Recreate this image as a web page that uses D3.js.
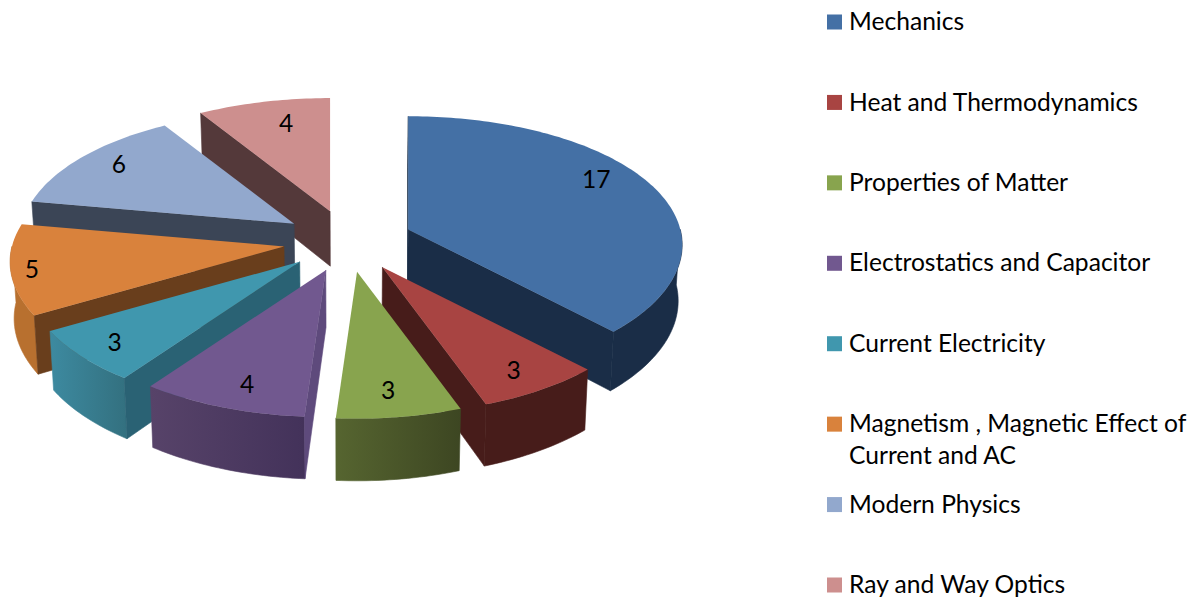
<!DOCTYPE html>
<html>
<head>
<meta charset="utf-8">
<script src="https://cdnjs.cloudflare.com/ajax/libs/d3/7.8.5/d3.min.js"></script>
<style>
  html, body { margin: 0; background: #fff; }
  text { font-family: Lato, "Open Sans", sans-serif; fill: #000; }
</style>
</head>
<body>
<div id="chart"></div>
<script>
  // Data
  const topics = ['Mechanics', 'Heat and Thermodynamics', 'Properties of Matter',
    'Electrostatics and Capacitor', 'Current Electricity',
    'Magnetism , Magnetic Effect of Current and AC', 'Modern Physics', 'Ray and Way Optics']
  const counts = [17, 3, 3, 4, 3, 5, 6, 4]

  // Colours
  const topColors = ['#4470a5', '#a84442', '#88a44e', '#71588f', '#4097ae', '#d9823c', '#92a8cd', '#cd8f8e']
  const wallColors = ['#1a2d47', '#471c1a', '#3d4622', '#5e4a7c', '#2a6274', '#693e1c', '#3b4556', '#54393a']
  const rimLeft = ['#1a2d47', '#471c1a', '#566530', '#574369', '#3d8aa0', '#b8702f', '#3b4556', '#54393a']
  const rimRight = ['#1a2d47', '#471c1a', '#3d4622', '#43325a', '#33707f', '#b8702f', '#3b4556', '#54393a']

  // Label placement: radius along the slice and angle nudge in degrees
  const labelRadius = [0.83, 0.85, 0.83, 0.84, 0.86, 0.925, 0.84, 0.765]
  const labelNudge = [-7, 0.5, 0.8, -1.7, -0.3, -1, 1.5, 2.6]

  // Vars for dimensions
  const width = 1194
  const height = 599
  const center = { x: 348, y: 241 }
  const explode = { x: 65, y: 31 }
  const radius = { x: 272, y: 130 }
  const perspective = { x: 0.12, y: 0.13 }

  const svg = d3.select('#chart')
    .append('svg')
    .attr('width', width)
    .attr('height', height)
    .style('display', 'block')

  const defs = svg.append('defs')
  const g = svg.append('g')

  const slices = d3.pie().sort(null).value(d => d)(counts)

  // Height of a wall grows a bit towards the viewer
  const wallDepth = y => 56 + (y - center.y) * 0.035

  const apexOf = d => {
    const mid = (d.startAngle + d.endAngle) / 2
    return [center.x + explode.x * Math.sin(mid), center.y - explode.y * Math.cos(mid)]
  }

  const rimPoint = (apex, angle, r = 1) => {
    const u = Math.sin(angle) * r
    const v = -Math.cos(angle) * r
    return [
      apex[0] + u * radius.x * (1 + perspective.x * v),
      apex[1] + v * radius.y * (1 + perspective.y * v)
    ]
  }

  const lower = pt => [center.x + (pt[0] - center.x) * 0.988, pt[1] + wallDepth(pt[1])]

  const arcPoints = (apex, a0, a1) => {
    const n = Math.max(2, Math.ceil((a1 - a0) / 0.02))
    return d3.range(n + 1).map(i => rimPoint(apex, a0 + (a1 - a0) * i / n))
  }

  const line = d3.line().curve(d3.curveLinearClosed)

  // Back to front, so nearer slices cover the walls of farther ones
  const drawOrder = [7, 6, 0, 5, 4, 3, 1, 2]

  drawOrder.forEach(i => {
    const d = slices[i]
    const a0 = d.startAngle
    const a1 = d.endAngle
    const apex = apexOf(d)
    const group = g.append('g').attr('class', 'slice')

    // Outer wall, only the part facing the viewer
    const from = Math.max(a0, Math.PI / 2)
    const to = Math.min(a1, Math.PI * 1.5)
    if (to > from) {
      const grad = defs.append('linearGradient').attr('id', `rim-${i}`)
      grad.append('stop').attr('offset', '0%').attr('stop-color', rimLeft[i])
      grad.append('stop').attr('offset', '100%').attr('stop-color', rimRight[i])
      const arc = arcPoints(apex, from, to)
      group.append('path')
        .attr('d', line(arc.concat(arc.map(lower).reverse())))
        .attr('fill', `url(#rim-${i})`)
        .attr('stroke', `url(#rim-${i})`)
        .attr('stroke-width', 0.6)
    }

    // Cut walls, only when they face the viewer
    const wall = angle => {
      const tip = rimPoint(apex, angle)
      group.append('path')
        .attr('d', line([apex, tip, lower(tip), lower(apex)]))
        .attr('fill', wallColors[i])
        .attr('stroke', wallColors[i])
        .attr('stroke-width', 0.6)
    }
    if (Math.sin(a0) <= 1e-9) wall(a0)
    if (Math.sin(a1) > 1e-9) wall(a1)

    // Top face
    group.append('path')
      .attr('d', line([apex].concat(arcPoints(apex, a0, a1))))
      .attr('fill', topColors[i])
  })

  // Value labels
  slices.forEach((d, i) => {
    const mid = (d.startAngle + d.endAngle) / 2 + labelNudge[i] * Math.PI / 180
    const pt = rimPoint(apexOf(d), mid, labelRadius[i])
    g.append('text')
      .attr('x', pt[0])
      .attr('y', pt[1])
      .attr('dy', '0.35em')
      .attr('text-anchor', 'middle')
      .attr('font-size', 24.6)
      .text(counts[i])
  })

  // Legend
  const legendY = d3.scalePoint().domain(topics).range([22, 585])
  const wrapped = { 'Magnetism , Magnetic Effect of Current and AC': ['Magnetism , Magnetic Effect of', 'Current and AC'] }

  const legend = svg.append('g').attr('class', 'legend')
  topics.forEach((name, i) => {
    const y = legendY(name)
    legend.append('rect')
      .attr('x', 827)
      .attr('y', y - 7.5)
      .attr('width', 15)
      .attr('height', 15)
      .attr('fill', topColors[i])
    const rows = wrapped[name] || [name]
    rows.forEach((row, k) => {
      legend.append('text')
        .attr('x', 849)
        .attr('y', y - 0.5 + k * 32)
        .attr('dy', '0.35em')
        .attr('font-size', 24.6)
        .text(row)
    })
  })
</script>
</body>
</html>
